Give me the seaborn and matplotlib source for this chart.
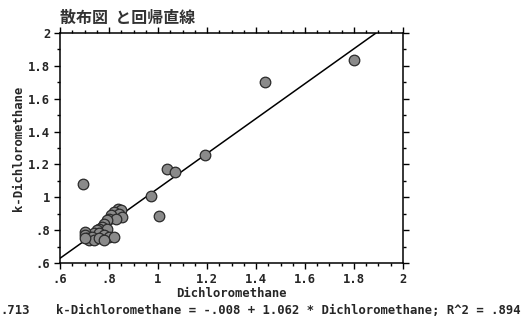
import matplotlib
matplotlib.use("Agg")
import matplotlib.pyplot as plt
import seaborn as sns
import pandas as pd
from matplotlib.ticker import MultipleLocator, FixedLocator, FixedFormatter

# Dichloromethane vs k-Dichloromethane measurements
dichloromethane = [
    0.835, 0.850, 0.820, 0.840, 0.855, 0.810, 0.800, 0.830, 0.790,
    0.780, 0.770, 0.760, 0.790, 0.750, 0.740, 0.760, 0.780, 0.800, 0.820,
    0.700, 0.700, 0.710, 0.720, 0.730, 0.740, 0.700, 0.760, 0.780,
    0.695, 0.970, 1.005, 1.035, 1.070, 1.190, 1.435, 1.800,
]
k_dichloromethane = [
    0.930, 0.920, 0.910, 0.900, 0.880, 0.890, 0.870, 0.870, 0.860,
    0.840, 0.820, 0.810, 0.810, 0.800, 0.780, 0.780, 0.770, 0.760, 0.760,
    0.790, 0.770, 0.750, 0.740, 0.760, 0.740, 0.750, 0.750, 0.740,
    1.080, 1.005, 0.885, 1.175, 1.155, 1.255, 1.700, 1.835,
]

# Fitted regression: k = intercept + slope * x
intercept = -0.008
slope = 1.062
r_squared = 0.894

x_ticks = [0.6, 0.8, 1.0, 1.2, 1.4, 1.6, 1.8, 2.0]
x_tick_labels = [".6", ".8", "1", "1.2", "1.4", "1.6", "1.8", "2"]
y_ticks = [0.6, 0.8, 1.0, 1.2, 1.4, 1.6, 1.8, 2.0]
y_tick_labels = [".6", ".8", "1", "1.2", "1.4", "1.6", "1.8", "2"]

title = "散布図  と回帰直線"
x_label = "Dichloromethane"
y_label = "k-Dichloromethane"
equation = "k-Dichloromethane = -.008 + 1.062 * Dichloromethane; R^2 = .894"
side_note = ".713"

sns.set_theme(style="white")
plt.rcParams["font.family"] = ["DejaVu Sans Mono", "DejaVu Sans"]

df = pd.DataFrame({"x": dichloromethane, "y": k_dichloromethane})

fig = plt.figure(figsize=(5.22, 3.22), dpi=100)
ax = fig.add_axes([0.115, 0.183, 0.657, 0.715])

# Regression line across the visible x range, from the stated coefficients
line_x = [0.6, (2.0 - intercept) / slope]
line_df = pd.DataFrame({"x": line_x, "y": [intercept + slope * v for v in line_x]})
sns.lineplot(data=line_df, x="x", y="y", ax=ax, color="black", linewidth=1.1)

sns.scatterplot(data=df, x="x", y="y", ax=ax, s=58, color="#8a8a8a",
                edgecolor="#2a2a2a", linewidth=0.9, zorder=3)

ax.set_xlim(0.6, 2.0)
ax.set_ylim(0.6, 2.0)
ax.xaxis.set_major_locator(FixedLocator(x_ticks))
ax.xaxis.set_major_formatter(FixedFormatter(x_tick_labels))
ax.yaxis.set_major_locator(FixedLocator(y_ticks))
ax.yaxis.set_major_formatter(FixedFormatter(y_tick_labels))
ax.xaxis.set_minor_locator(MultipleLocator(0.05))
ax.yaxis.set_minor_locator(MultipleLocator(0.1))

ax.tick_params(which="both", direction="out", top=True, right=True,
               bottom=True, left=True, color="black", width=1)
ax.tick_params(which="major", length=4, labelsize=8.8, pad=3,
               labeltop=False, labelright=False)
ax.tick_params(which="minor", length=2.5)
for lab in ax.get_xticklabels() + ax.get_yticklabels():
    lab.set_fontweight("bold")

for sp in ax.spines.values():
    sp.set_visible(True)
    sp.set_color("black")
    sp.set_linewidth(1.1)

ax.set_xlabel(x_label, fontsize=8.8, fontweight="bold", labelpad=1)
ax.set_ylabel(y_label, fontsize=8.8, fontweight="bold", labelpad=2)

fig.text(0.115, 0.945, title, fontsize=11.5, fontweight="bold",
         family=["Noto Sans CJK JP", "DejaVu Sans"], ha="left", va="center",
         color="#333333")
fig.text(0.108, 0.035, equation, fontsize=8.8, fontweight="bold",
         ha="left", va="center")
fig.text(0.0, 0.035, side_note, fontsize=8.8, fontweight="bold",
         ha="left", va="center")

fig.savefig("out.png", dpi=100, facecolor="white")
